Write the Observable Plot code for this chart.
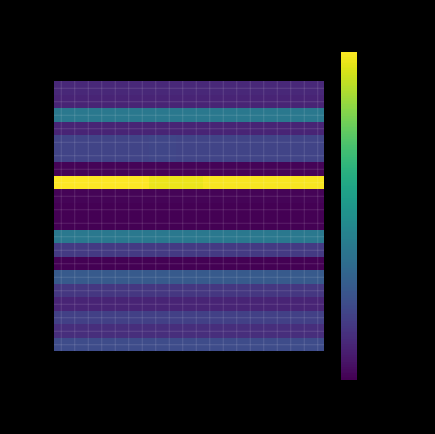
<!DOCTYPE html>
<html>
<head>
<meta charset="utf-8">
<script src="https://cdn.jsdelivr.net/npm/d3@7"></script>
<script src="https://cdn.jsdelivr.net/npm/@observablehq/plot@0.6"></script>
<style>
  html, body { margin: 0; padding: 0; background: #000; }
  #wrap { position: relative; width: 435px; height: 434px; background: #000; overflow: hidden; }
  #wrap > svg, #wrap > figure { position: absolute; left: 0; top: 0; margin: 0; }
</style>
</head>
<body>
<div id="wrap"></div>
<script>
// Column and row indices of the matrix
const columns = [0,1,2,3,4,5,6,7,8,9,10,11,12,13,14,15,16,17,18,19];
const rows = [0,1,2,3,4,5,6,7,8,9,10,11,12,13,14,15,16,17,18,19];

// Matrix values (row by row, 20 columns each)
const row0  = [0.11,0.11,0.11,0.11,0.11,0.11,0.11,0.11,0.11,0.11,0.11,0.11,0.11,0.11,0.11,0.11,0.11,0.11,0.11,0.11];
const row1  = [0.10,0.10,0.10,0.10,0.10,0.10,0.10,0.10,0.10,0.10,0.10,0.10,0.10,0.10,0.10,0.10,0.10,0.10,0.10,0.10];
const row2  = [0.40,0.40,0.40,0.40,0.40,0.40,0.40,0.40,0.40,0.40,0.40,0.40,0.40,0.40,0.40,0.40,0.40,0.40,0.40,0.40];
const row3  = [0.10,0.10,0.10,0.10,0.10,0.10,0.10,0.10,0.10,0.10,0.10,0.10,0.10,0.10,0.10,0.10,0.10,0.10,0.10,0.10];
const row4  = [0.20,0.20,0.20,0.20,0.20,0.20,0.20,0.21,0.21,0.20,0.20,0.20,0.20,0.20,0.20,0.20,0.20,0.20,0.20,0.20];
const row5  = [0.20,0.20,0.20,0.20,0.20,0.20,0.20,0.21,0.21,0.20,0.20,0.20,0.20,0.20,0.20,0.20,0.20,0.20,0.20,0.20];
const row6  = [0.01,0.01,0.01,0.01,0.01,0.01,0.01,0.01,0.01,0.01,0.01,0.01,0.01,0.01,0.01,0.01,0.01,0.01,0.01,0.01];
const row7  = [1.00,1.00,1.00,1.00,1.00,1.00,1.00,0.97,0.97,0.97,0.97,0.99,0.99,0.99,0.99,0.99,0.99,0.99,0.99,0.99];
const row8  = [0.01,0.01,0.01,0.01,0.01,0.01,0.01,0.01,0.01,0.01,0.01,0.01,0.01,0.01,0.01,0.01,0.01,0.01,0.01,0.01];
const row9  = [0.00,0.00,0.00,0.00,0.00,0.00,0.00,0.00,0.00,0.00,0.00,0.00,0.00,0.00,0.00,0.00,0.00,0.00,0.00,0.00];
const row10 = [0.00,0.00,0.00,0.00,0.00,0.00,0.00,0.00,0.00,0.00,0.00,0.00,0.00,0.00,0.00,0.00,0.00,0.00,0.00,0.00];
const row11 = [0.40,0.40,0.40,0.40,0.40,0.40,0.40,0.40,0.40,0.40,0.40,0.40,0.40,0.40,0.40,0.40,0.40,0.40,0.40,0.40];
const row12 = [0.17,0.17,0.17,0.17,0.17,0.17,0.17,0.17,0.17,0.17,0.17,0.17,0.17,0.17,0.17,0.17,0.17,0.17,0.17,0.17];
const row13 = [0.00,0.00,0.00,0.00,0.00,0.00,0.00,0.00,0.00,0.00,0.00,0.00,0.00,0.00,0.00,0.00,0.00,0.00,0.00,0.00];
const row14 = [0.28,0.28,0.28,0.28,0.28,0.28,0.28,0.28,0.28,0.28,0.28,0.28,0.28,0.28,0.28,0.28,0.28,0.28,0.28,0.28];
const row15 = [0.16,0.16,0.16,0.16,0.16,0.16,0.16,0.16,0.16,0.16,0.16,0.16,0.16,0.16,0.16,0.16,0.16,0.16,0.16,0.16];
const row16 = [0.10,0.10,0.10,0.10,0.10,0.10,0.10,0.10,0.10,0.10,0.10,0.10,0.10,0.10,0.10,0.10,0.10,0.10,0.10,0.10];
const row17 = [0.19,0.19,0.19,0.19,0.19,0.19,0.19,0.19,0.19,0.19,0.19,0.19,0.19,0.19,0.19,0.19,0.19,0.19,0.19,0.19];
const row18 = [0.13,0.13,0.13,0.13,0.13,0.13,0.13,0.13,0.13,0.13,0.13,0.13,0.13,0.13,0.13,0.13,0.13,0.13,0.13,0.13];
const row19 = [0.23,0.23,0.23,0.23,0.23,0.23,0.23,0.23,0.23,0.23,0.23,0.23,0.23,0.23,0.23,0.23,0.23,0.23,0.23,0.23];

const matrix = [row0,row1,row2,row3,row4,row5,row6,row7,row8,row9,row10,
                row11,row12,row13,row14,row15,row16,row17,row18,row19];

const colorDomain = [0, 1];

const cells = [];
rows.forEach(r => columns.forEach(c => cells.push({row: r, col: c, value: matrix[r][c]})));

const heat = Plot.plot({
  width: 435,
  height: 434,
  marginLeft: 54,
  marginRight: 111,
  marginTop: 81,
  marginBottom: 83,
  style: {background: "transparent"},
  x: {type: "band", domain: columns, padding: 0, round: false, axis: null},
  y: {type: "band", domain: rows, padding: 0, round: false, axis: null},
  color: {type: "linear", scheme: "viridis", domain: colorDomain},
  marks: [
    Plot.cell(cells, {x: "col", y: "row", fill: "value", inset: 0, shapeRendering: "crispEdges"}),
    Plot.ruleX(columns, {x: d => d, stroke: "white", strokeOpacity: 0.16, strokeWidth: 0.8}),
    Plot.ruleY(rows, {y: d => d, stroke: "white", strokeOpacity: 0.16, strokeWidth: 0.8})
  ]
});

// Colorbar
const stops = d3.range(0, 1.0001, 0.005);
const bar = Plot.plot({
  width: 435,
  height: 434,
  marginLeft: 341,
  marginRight: 78,
  marginTop: 52,
  marginBottom: 54,
  style: {background: "transparent"},
  x: {domain: [0, 1], axis: null},
  y: {domain: colorDomain, axis: null},
  color: {type: "linear", scheme: "viridis", domain: colorDomain},
  marks: [
    Plot.rect(stops, {x1: 0, x2: 1, y1: d => d, y2: d => Math.min(1, d + 0.006), fill: d => d, shapeRendering: "crispEdges"})
  ]
});

const wrap = document.getElementById("wrap");
wrap.appendChild(heat);
wrap.appendChild(bar);
</script>
</body>
</html>
